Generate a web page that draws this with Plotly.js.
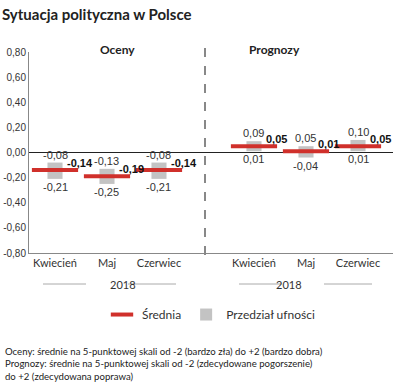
<!DOCTYPE html>
<html><head><meta charset="utf-8">
<script src="https://cdn.plot.ly/plotly-3.0.1.min.js"></script>
<style>body{margin:0;padding:0;background:#fff}#chart{width:400px;height:387px}</style>
</head><body><div id="chart"></div>
<script>
var months = ["Kwiecień", "Maj", "Czerwiec"];
var ocenyMean = [-0.14, -0.19, -0.14];
var ocenyLow = [-0.21, -0.25, -0.21];
var ocenyHigh = [-0.08, -0.13, -0.08];
var progMean = [0.05, 0.01, 0.05];
var progLow = [0.01, -0.04, 0.01];
var progHigh = [0.09, 0.05, 0.10];
var yTickVals = [0.8, 0.6, 0.4, 0.2, 0, -0.2, -0.4, -0.6, -0.8];
var yTickText = ["0,80", "0,60", "0,40", "0,20", "0,00", "-0,20", "-0,40", "-0,60", "-0,80"];
var groupTitles = ["Oceny", "Prognozy"];
var yearLabel = "2018";
var titleText = "Sytuacja polityczna w Polsce";
var footText = "Oceny: średnie na 5-punktowej skali od -2 (bardzo zła) do +2 (bardzo dobra)<br>Prognozy: średnie na 5-punktowej skali od -2 (zdecydowane pogorszenie)<br>do +2 (zdecydowana poprawa)";

function fmt(v) { return v.toFixed(2).replace('.', ','); }
var numFont = {family: "Liberation Sans, Arial, sans-serif", size: 11, color: "#333"};
var boldFont = {family: "Liberation Sans, Arial, sans-serif", size: 11, color: "#111", weight: "bold"};
var grey = "#c3c3c3", red = "#d0302b";

var groups = [
  {xa: "x", mean: ocenyMean, low: ocenyLow, high: ocenyHigh, legend: true},
  {xa: "x2", mean: progMean, low: progLow, high: progHigh, legend: false}
];
var traces = [], annotations = [];
groups.forEach(function (g) {
  traces.push({
    type: "bar", x: months, y: g.high.map(function (h, i) { return h - g.low[i]; }),
    base: g.low, width: 0.29, xaxis: g.xa, yaxis: "y",
    marker: {color: grey}, name: "Przedział ufności", legendgroup: "ci",
    showlegend: g.legend, legendrank: 2, hoverinfo: "skip"
  });
});
groups.forEach(function (g) {
  traces.push({
    type: "scatter", mode: "markers", x: months, y: g.mean, xaxis: g.xa, yaxis: "y",
    marker: {symbol: "line-ew", size: 33, color: red, line: {color: red, width: 4}},
    name: "Średnia", legendgroup: "mean", showlegend: g.legend, legendrank: 1, hoverinfo: "skip"
  });
  months.forEach(function (m, i) {
    annotations.push({xref: g.xa, yref: "y", x: m, y: g.high[i], text: fmt(g.high[i]),
      showarrow: false, yanchor: "bottom", font: numFont, yshift: 0});
    annotations.push({xref: g.xa, yref: "y", x: m, y: g.low[i], text: fmt(g.low[i]),
      showarrow: false, yanchor: "top", font: numFont, yshift: 0});
    annotations.push({xref: g.xa, yref: "y", x: m, y: g.mean[i], text: fmt(g.mean[i]),
      showarrow: false, xanchor: "left", yanchor: "middle", font: boldFont, xshift: 10, yshift: 7});
  });
});

var split = 176 / 364;
var catFont = {family: "Lato, sans-serif", size: 11, color: "#333"};
annotations.push({xref: "paper", yref: "paper", x: 68.5 / 364, y: 1.06, text: "<b>" + groupTitles[0] + "</b>",
  showarrow: false, font: {family: "Lato, sans-serif", size: 12, color: "#222"}});
annotations.push({xref: "paper", yref: "paper", x: 273 / 364, y: 1.06, text: "<b>" + groupTitles[1] + "</b>",
  showarrow: false, font: {family: "Lato, sans-serif", size: 12, color: "#222"}});
var yearPx = [79, 275];
var shapes = [];
yearPx.forEach(function (p) {
  annotations.push({xref: "paper", yref: "paper", x: p / 364, y: -31 / 201, text: yearLabel,
    showarrow: false, yanchor: "middle", font: catFont});
  shapes.push({type: "line", xref: "paper", yref: "paper", x0: (p - 65) / 364, x1: (p - 22) / 364,
    y0: -31 / 201, y1: -31 / 201, line: {color: "#aaa", width: 1}});
  shapes.push({type: "line", xref: "paper", yref: "paper", x0: (p + 20) / 364, x1: (p + 68) / 364,
    y0: -31 / 201, y1: -31 / 201, line: {color: "#aaa", width: 1}});
});
shapes.push({type: "line", xref: "paper", yref: "paper", x0: split, x1: split, y0: -0.01, y1: 1.03,
  line: {color: "#888", width: 2, dash: "dash"}});
annotations.push({xref: "paper", yref: "paper", x: -26 / 364, y: -91 / 201, xanchor: "left", yanchor: "top",
  align: "left", text: footText, showarrow: false, font: {family: "Lato, sans-serif", size: 9.6, color: "#222"}});

var xCommon = {type: "category", showline: true, linecolor: "#888", linewidth: 1, showgrid: false,
  zeroline: false, ticks: "", tickfont: catFont, fixedrange: true};
var layout = {
  width: 400, height: 387,
  margin: {l: 29, r: 7, t: 52, b: 134},
  paper_bgcolor: "#fff", plot_bgcolor: "#fff",
  title: {text: "<b>" + titleText + "</b>", x: 0.005, xanchor: "left", xref: "container",
    y: 1 - 15 / 387, yanchor: "middle", font: {family: "Lato, sans-serif", size: 15, color: "#222"}},
  xaxis: Object.assign({}, xCommon, {domain: [0, split], range: [-0.5, 2.885], anchor: "y"}),
  xaxis2: Object.assign({}, xCommon, {domain: [split, 1], range: [-0.942, 2.673], anchor: "y"}),
  yaxis: {range: [-0.8, 0.8], tickvals: yTickVals, ticktext: yTickText, showgrid: false,
    showline: true, linecolor: "#888", zeroline: true, zerolinecolor: "#222", zerolinewidth: 1,
    tickfont: {family: "Liberation Sans, Arial, sans-serif", size: 10, color: "#333"}, ticks: "", fixedrange: true},
  showlegend: true,
  legend: {orientation: "h", x: 0.5, xanchor: "center", y: -0.234, yanchor: "top",
    font: {family: "Lato, sans-serif", size: 12, color: "#333"}, traceorder: "normal"},
  barmode: "overlay",
  annotations: annotations, shapes: shapes
};
Plotly.newPlot("chart", traces, layout, {displayModeBar: false, staticPlot: true});
</script></body></html>
